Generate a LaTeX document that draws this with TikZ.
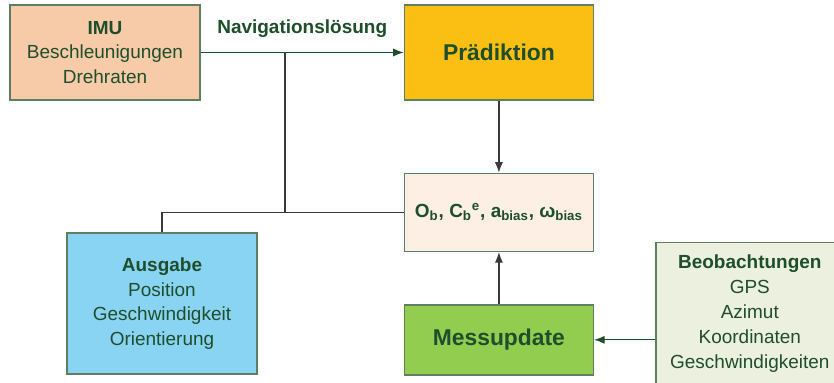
\documentclass[tikz,border=0pt]{standalone}
\usepackage{fontspec}
\setmainfont{Liberation Sans}
\usetikzlibrary{arrows.meta,positioning}
\definecolor{TxtGreen}{HTML}{1E4E2C}
\definecolor{EdgeGreen}{HTML}{5F7F63}
\definecolor{LineGray}{HTML}{3A3A3A}
\definecolor{ImuFill}{HTML}{F8CBA8}
\definecolor{PredFill}{HTML}{FBBF14}
\definecolor{StateFill}{HTML}{FDEFE3}
\definecolor{OutFill}{HTML}{89D3F3}
\definecolor{MeasFill}{HTML}{92CD50}
\definecolor{ObsFill}{HTML}{EBF1DE}

\begin{document}
\begin{tikzpicture}[
  blk/.style={draw=EdgeGreen, line width=0.8pt, align=center, inner sep=2pt,
              text=TxtGreen, font=\fontsize{10.8}{14.1}\selectfont},
  big/.style={font=\fontsize{13}{15}\selectfont\bfseries},
  conn/.style={LineGray, line width=0.7pt},
  tip/.style={-{Latex[length=6pt,width=4.6pt]}},
  node distance=1cm
]
  \useasboundingbox (0,0) rectangle (16.68,-7.66);

  \node[blk, fill=ImuFill, minimum width=3.8cm, minimum height=1.9cm] (imu)
    at (2.1,-1.05) {\textbf{IMU}\\Beschleunigungen\\Drehraten};
  \node[blk, big, fill=PredFill, minimum width=3.78cm, minimum height=1.9cm,
        right=4.06cm of imu] (praed) {Prädiktion};
  \node[blk, fill=StateFill, minimum width=3.78cm, minimum height=1.56cm,
        below=1.44cm of praed, font=\fontsize{10.8}{13.8}\selectfont\bfseries] (zustand)
    {O\textsubscript{b}, C\textsubscript{b}\textsuperscript{e}, a\textsubscript{bias}, ω\textsubscript{bias}};
  \node[blk, big, fill=MeasFill, minimum width=3.78cm, minimum height=1.4cm,
        below=1.04cm of zustand] (mess) {Messupdate};
  \node[blk, fill=OutFill, minimum width=3.8cm, minimum height=2.82cm] (ausgabe)
    at (3.24,-6.07) {\textbf{Ausgabe}\\Position\\Geschwindigkeit\\Orientierung};
  \node[blk, fill=ObsFill, minimum width=3.76cm, minimum height=2.86cm,
        font=\fontsize{10.8}{14.3}\selectfont,
        right=1.22cm of mess, yshift=0.52cm] (beob)
    {\textbf{Beobachtungen}\\GPS\\Azimut\\Koordinaten\\Geschwindigkeiten};

  % Verbindungen
  \draw[tip, TxtGreen, line width=0.7pt] (imu) -- node[above=5pt, text=TxtGreen,
    font=\fontsize{10.8}{13}\selectfont\bfseries] {Navigationslösung} (praed);
  \coordinate (abzw) at (5.7,-1.06);
  \draw[conn] (abzw) |- (zustand.west);
  \draw[conn] (zustand.west) -| (ausgabe.north);
  \draw[conn, tip] (praed) -- (zustand);
  \draw[conn, tip] (mess) -- (zustand);
  \draw[tip, TxtGreen, line width=0.7pt] (beob.west |- mess.east) -- (mess.east);
\end{tikzpicture}
\end{document}
